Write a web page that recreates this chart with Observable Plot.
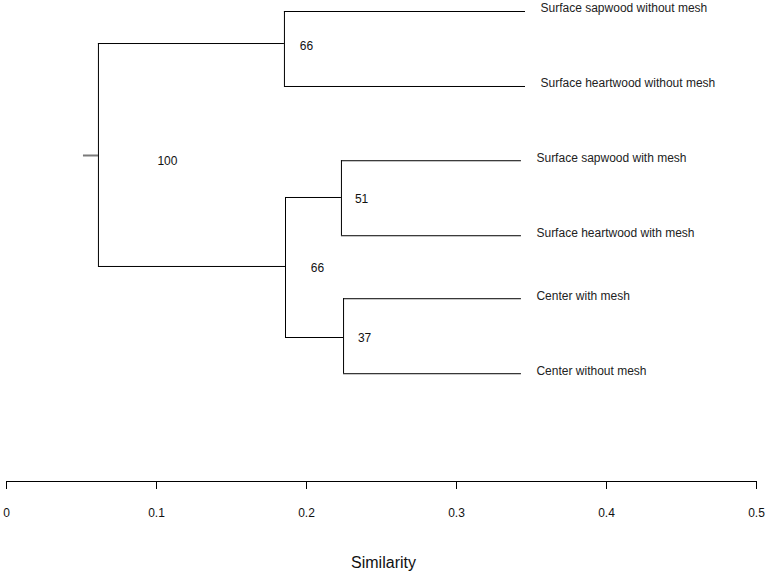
<!DOCTYPE html>
<html>
<head>
<meta charset="utf-8">
<script src="https://cdn.jsdelivr.net/npm/d3@7"></script>
<script src="https://cdn.jsdelivr.net/npm/@observablehq/plot@0.6"></script>
<style>
  html, body { margin: 0; padding: 0; background: #fff; }
  #chart { width: 770px; height: 572px; }
</style>
</head>
<body>
<div id="chart"></div>
<script>
// Leaves (top to bottom)
const leafIds = ["L0", "L1", "L2", "L3", "L4", "L5"];
const leafNames = [
  "Surface sapwood without mesh",
  "Surface heartwood without mesh",
  "Surface sapwood with mesh",
  "Surface heartwood with mesh",
  "Center with mesh",
  "Center without mesh"
];
const leafSim = [0.346, 0.346, 0.3433, 0.3433, 0.3433, 0.3433];
const leafRow = [0, 1, 1.99, 2.99, 3.83, 4.83];

// Internal nodes
const nodeIds = ["root", "A", "B", "C", "D"];
const nodeSim = [0.0613, 0.1853, 0.186, 0.2233, 0.2247];
const nodeRow = [1.92, 0.427, 3.4, 2.48, 4.347];
const nodeChildren = [["A", "B"], ["L0", "L1"], ["C", "D"], ["L2", "L3"], ["L4", "L5"]];
const nodeSupport = [100, 66, 66, 51, 37];
const supportLabelSim = [0.1073, 0.2, 0.2073, 0.2367, 0.2387];
const supportLabelRow = [2.0, 0.467, 3.427, 2.507, 4.36];
const rootStemSim = 0.0513;

// Axis ticks
const xTicks = [0, 0.1, 0.2, 0.3, 0.4, 0.5];
const xTickLabels = ["0", "0.1", "0.2", "0.3", "0.4", "0.5"];
const xLabel = "Similarity";

// Build tables
const pos = new Map();
leafIds.forEach((id, i) => pos.set(id, {sim: leafSim[i], row: leafRow[i]}));
nodeIds.forEach((id, i) => pos.set(id, {sim: nodeSim[i], row: nodeRow[i]}));

const verticals = nodeIds.map((id, i) => {
  const rows = nodeChildren[i].map(c => pos.get(c).row);
  return {x: nodeSim[i], y1: d3.min(rows), y2: d3.max(rows)};
});
const horizontals = [];
nodeIds.forEach((id, i) => {
  nodeChildren[i].forEach(c => {
    const p = pos.get(c);
    horizontals.push({x1: nodeSim[i], x2: p.sim, y: p.row});
  });
});
const leaves = leafIds.map((id, i) => ({name: leafNames[i], sim: leafSim[i], row: leafRow[i]}));
const supports = nodeIds.map((id, i) => ({s: nodeSupport[i], x: supportLabelSim[i], y: supportLabelRow[i]}));
const stem = [{x1: rootStemSim, x2: nodeSim[0], y: nodeRow[0]}];

const chart = Plot.plot({
  width: 770,
  height: 572,
  marginLeft: 6,
  marginRight: 14,
  marginTop: 11,
  marginBottom: 91,
  style: {fontFamily: "Liberation Sans, Arial, sans-serif", background: "#fff", overflow: "visible"},
  x: {domain: [0, 0.5]},
  y: {domain: [0, 4.827], range: [11, 373], axis: null},
  marks: [
    Plot.frame({anchor: "bottom", stroke: "#000"}),
    Plot.axisX({
      ticks: xTicks,
      tickFormat: d => xTickLabels[xTicks.indexOf(d)],
      tickSize: 8,
      tickPadding: 19,
      fontSize: 12,
      stroke: "#000",
      fill: "#111",
      label: null
    }),
    Plot.text([xLabel], {frameAnchor: "bottom", text: d => d, dx: 2, dy: 86, fontSize: 16, fill: "#111"}),
    Plot.ruleY(stem, {x1: "x1", x2: "x2", y: "y", stroke: "#7a7a7a", strokeWidth: 2}),
    Plot.ruleX(verticals, {x: "x", y1: "y1", y2: "y2", stroke: "#000", strokeWidth: 1}),
    Plot.ruleY(horizontals, {x1: "x1", x2: "x2", y: "y", stroke: "#000", strokeWidth: 1}),
    Plot.text(leaves, {x: "sim", y: "row", text: "name", dx: 15, dy: -3, textAnchor: "start", fontSize: 12, fill: "#222"}),
    Plot.text(supports, {x: "x", y: "y", text: d => String(d.s), textAnchor: "middle", fontSize: 12, fill: "#111"})
  ]
});
document.getElementById("chart").appendChild(chart);
</script>
</body>
</html>
